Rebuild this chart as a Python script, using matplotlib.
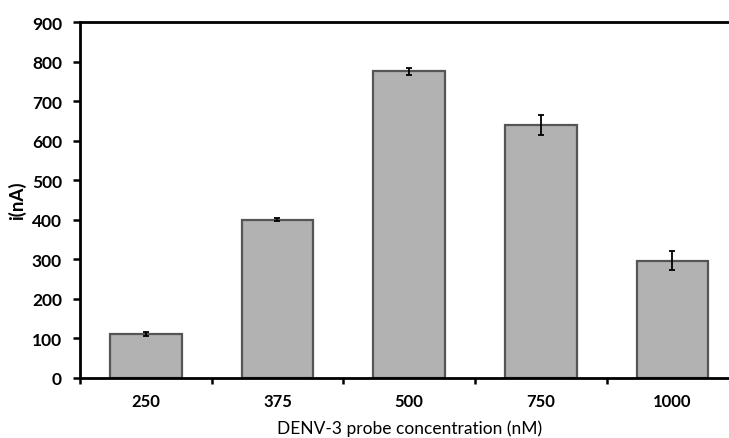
import matplotlib
matplotlib.use("Agg")
import matplotlib.pyplot as plt
import numpy as np

categories = ["250", "375", "500", "750", "1000"]
values = [111, 400, 775, 639, 296]
errors = [6, 4, 9, 25, 24]
y_ticks = [0, 100, 200, 300, 400, 500, 600, 700, 800, 900]

plt.rcParams['font.family'] = ['Lato', 'DejaVu Sans']

fig = plt.figure(figsize=(7.29, 4.39), dpi=100)
W, H = 729, 439
ax = fig.add_axes([80 / W, (H - 379) / H, (738.3 - 80) / W, (379 - 23) / H])

x = np.arange(len(categories))
ax.bar(x, values, width=0.545, color="#b2b2b2", edgecolor="#555555", linewidth=1.6, zorder=2)
ax.errorbar(x, values, yerr=errors, fmt="none", ecolor="black", elinewidth=1.3,
            capsize=2.5, capthick=1.3, zorder=3)

ax.set_xlim(-0.5, len(categories) - 0.5)
ax.set_ylim(0, 900)
ax.set_yticks(y_ticks)
ax.set_yticklabels([str(t) for t in y_ticks], fontsize=12.5, fontweight="bold")

ax.set_xticks(np.arange(-0.5, len(categories), 1.0))
ax.set_xticklabels([])
ax.set_xticks(x, minor=True)
ax.set_xticklabels(categories, minor=True, fontsize=12, fontweight="bold")
ax.tick_params(axis="x", which="minor", length=0, pad=11)
ax.tick_params(axis="x", which="major", direction="out", length=4, width=1.8)
ax.tick_params(axis="y", direction="out", length=5, width=1.8, pad=8)

for s in ["left", "bottom", "top"]:
    ax.spines[s].set_linewidth(2)
    ax.spines[s].set_color("black")
ax.spines["right"].set_visible(False)

ax.set_ylabel("i(nA)", fontsize=13.5, fontweight="bold", labelpad=4)
ax.set_xlabel("DENV-3 probe concentration (nM)", fontsize=12.5, labelpad=7)

fig.savefig("out.png", dpi=100)
